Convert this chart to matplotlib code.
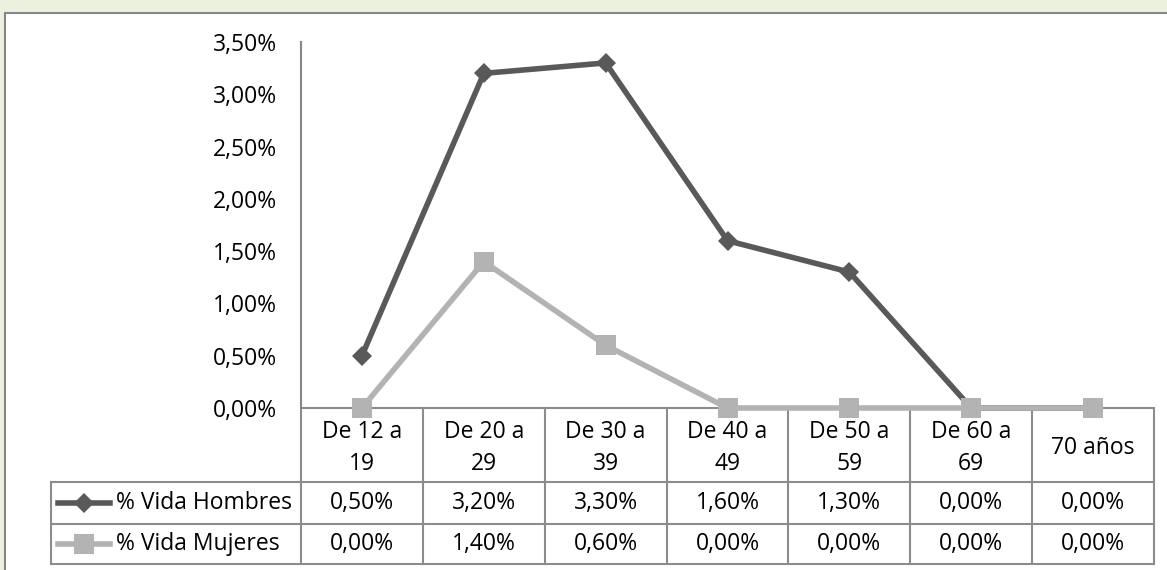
import matplotlib

matplotlib.use("Agg")
import matplotlib.pyplot as plt
from matplotlib.lines import Line2D
from matplotlib.patches import Rectangle

# Age groups (two-line headers as they appear in the data table)
categories = ["De 12 a\n19", "De 20 a\n29", "De 30 a\n39", "De 40 a\n49",
              "De 50 a\n59", "De 60 a\n69", "70 años"]
hombres = [0.50, 3.20, 3.30, 1.60, 1.30, 0.00, 0.00]
mujeres = [0.00, 1.40, 0.60, 0.00, 0.00, 0.00, 0.00]
series_names = ["% Vida Hombres", "% Vida Mujeres"]
y_ticks = [0.0, 0.5, 1.0, 1.5, 2.0, 2.5, 3.0, 3.5]

W, H = 1167, 570
DARK = "#595959"
LIGHT = "#b3b3b3"
GRID = "#8c8c8c"
FONT = "Open Sans"
FS = 16.5
LW = 4.0
D_MS, S_MS = 10.5, 15


def pct(v):
    return f"{v:.2f}%".replace(".", ",")


def fx(x):
    return x / W


def fy(y):
    return 1 - y / H


fig = plt.figure(figsize=(W / 100, H / 100), dpi=100)
fig.patch.set_facecolor("#ebf1de")

# white chart area with gray frame
fig.patches.append(Rectangle((fx(5), fy(H + 10)), fx(W + 10), fy(13) - fy(H + 10),
                             transform=fig.transFigure, facecolor="white",
                             edgecolor="#868686", linewidth=1.5, zorder=-5))

# plot area: x from 301 to 1154 px, y from 42 (3.5%) to 408 (0%)
x0, x1, ytop, ybot = 301, 1154, 42, 408
ax = fig.add_axes([fx(x0), fy(ybot), fx(x1 - x0), fy(ytop) - fy(ybot)])
ax.set_zorder(2)
ax.set_facecolor("none")
ax.set_xlim(-0.5, len(categories) - 0.5)
ax.set_ylim(0, 3.5)

xs = range(len(categories))
ax.plot(xs, hombres, color=DARK, lw=LW, marker="D", ms=D_MS, mew=0,
        solid_joinstyle="miter", clip_on=False, zorder=3)
ax.plot(xs, mujeres, color=LIGHT, lw=LW, marker="s", ms=S_MS, mew=0,
        solid_joinstyle="miter", clip_on=False, zorder=4)

ax.set_yticks(y_ticks)
ax.set_yticklabels([pct(v) for v in y_ticks], fontfamily=FONT, fontsize=FS)
ax.tick_params(axis="y", length=0, pad=17)
ax.set_xticks([])
for side in ("top", "right", "bottom"):
    ax.spines[side].set_visible(False)
ax.spines["left"].set_color("#868686")
ax.spines["left"].set_linewidth(1.5)

# data table under the plot
col_w = (x1 - x0) / len(categories)
row_y = [408, 482, 524, 564]
leg_x = 51


def hline(xa, xb, y):
    fig.add_artist(Line2D([fx(xa), fx(xb)], [fy(y), fy(y)], color=GRID, lw=1.5,
                          transform=fig.transFigure, zorder=1))


def vline(x, ya, yb):
    fig.add_artist(Line2D([fx(x), fx(x)], [fy(ya), fy(yb)], color=GRID, lw=1.5,
                          transform=fig.transFigure, zorder=1))


hline(x0, x1, row_y[0])
hline(leg_x, x1, row_y[1])
hline(leg_x, x1, row_y[2])
hline(leg_x, x1, row_y[3])
for i in range(len(categories) + 1):
    vline(x0 + i * col_w, row_y[0], row_y[3])
vline(leg_x, row_y[1], row_y[3])

for i, cat in enumerate(categories):
    cx = x0 + (i + 0.5) * col_w
    fig.text(fx(cx), fy((row_y[0] + row_y[1]) / 2 + 3), cat, ha="center", va="center",
             fontfamily=FONT, fontsize=FS, linespacing=1.45)

for r, (name, vals, color, mk, ms) in enumerate([
        (series_names[0], hombres, DARK, "D", D_MS),
        (series_names[1], mujeres, LIGHT, "s", S_MS)]):
    cy = (row_y[r + 1] + row_y[r + 2]) / 2
    fig.add_artist(Line2D([fx(58), fx(110)], [fy(cy), fy(cy)], color=color, lw=LW,
                          transform=fig.transFigure, zorder=6))
    fig.add_artist(Line2D([fx(84)], [fy(cy)], color=color, marker=mk, ms=ms, mew=0,
                          transform=fig.transFigure, zorder=6))
    fig.text(fx(116), fy(cy), name, ha="left", va="center",
             fontfamily=FONT, fontsize=FS)
    for i, v in enumerate(vals):
        cx = x0 + (i + 0.5) * col_w
        fig.text(fx(cx), fy(cy), pct(v), ha="center", va="center",
                 fontfamily=FONT, fontsize=FS)

fig.savefig("out.png", dpi=100, facecolor=fig.get_facecolor())
